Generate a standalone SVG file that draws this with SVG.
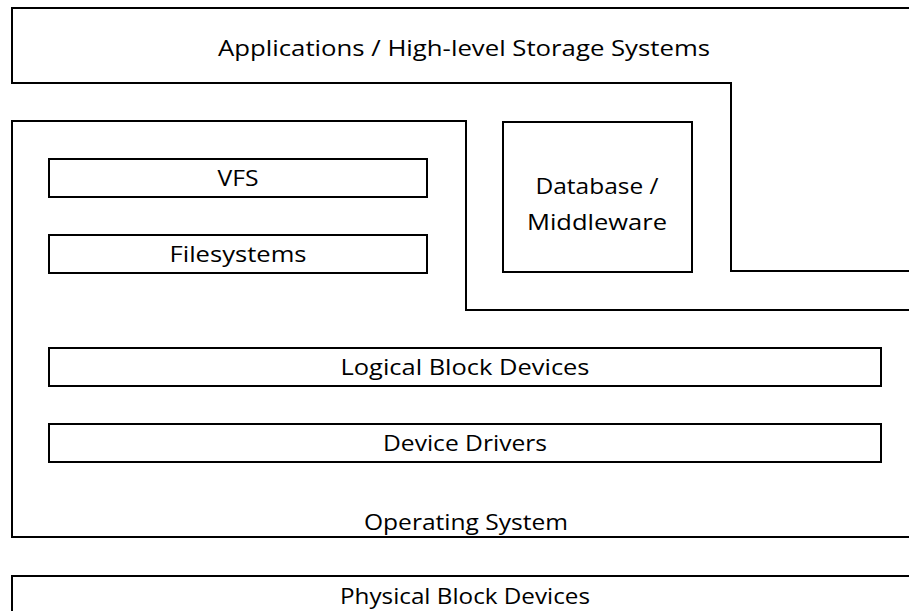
<svg xmlns="http://www.w3.org/2000/svg" width="909" height="611" viewBox="0 0 909 611">
  <style>
    .box { fill: none; stroke: #000; stroke-width: 2; }
    .lbl { font-family: "Open Sans", "Noto Sans", "Liberation Sans", sans-serif; font-size: 22px; fill: #000; text-anchor: middle; }
  </style>
  <rect width="909" height="611" fill="#fff"/>

  <!-- Applications layer, L-shaped, runs off the right edge -->
  <g id="applications">
    <path class="box" d="M12,8 H914 V271 H731 V83 H12 Z"/>
    <text class="lbl" x="464" y="56" textLength="492" lengthAdjust="spacingAndGlyphs">Applications / High-level Storage Systems</text>
  </g>

  <!-- Operating system container -->
  <g id="operating-system">
    <path class="box" d="M12,121 H466 V310 H914 V537 H12 Z"/>
    <text class="lbl" x="466" y="530" textLength="204" lengthAdjust="spacingAndGlyphs">Operating System</text>
  </g>

  <g id="database">
    <rect class="box" x="503" y="122" width="189" height="150"/>
    <text class="lbl" x="597" y="194" textLength="123" lengthAdjust="spacingAndGlyphs">Database /</text>
    <text class="lbl" x="597" y="230" textLength="140" lengthAdjust="spacingAndGlyphs">Middleware</text>
  </g>

  <g id="vfs">
    <rect class="box" x="49" y="159" width="378" height="38"/>
    <text class="lbl" x="238" y="186" textLength="41" lengthAdjust="spacingAndGlyphs">VFS</text>
  </g>

  <g id="filesystems">
    <rect class="box" x="49" y="235" width="378" height="38"/>
    <text class="lbl" x="238" y="262" textLength="137" lengthAdjust="spacingAndGlyphs">Filesystems</text>
  </g>

  <g id="logical-block-devices">
    <rect class="box" x="49" y="348" width="832" height="38"/>
    <text class="lbl" x="465" y="375" textLength="249" lengthAdjust="spacingAndGlyphs">Logical Block Devices</text>
  </g>

  <g id="device-drivers">
    <rect class="box" x="49" y="424" width="832" height="38"/>
    <text class="lbl" x="465" y="451" textLength="164" lengthAdjust="spacingAndGlyphs">Device Drivers</text>
  </g>

  <g id="physical-block-devices">
    <rect class="box" x="12" y="576" width="902" height="80"/>
    <text class="lbl" x="465" y="604" textLength="250" lengthAdjust="spacingAndGlyphs">Physical Block Devices</text>
  </g>

  <g id="connectors"/>
</svg>
